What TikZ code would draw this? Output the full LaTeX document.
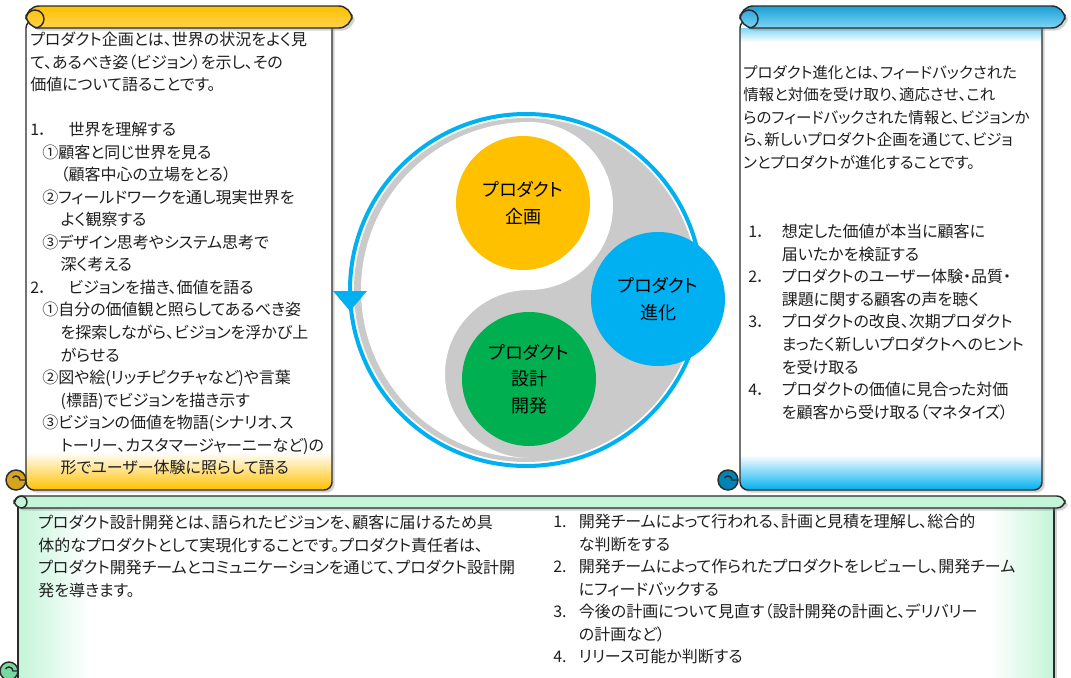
\documentclass[tikz,border=0pt]{standalone}
\usepackage{fontspec}
\setmainfont{Noto Sans CJK JP}[RawFeature=+palt]
\usetikzlibrary{shadows}

\definecolor{gold}{HTML}{FFC000}
\definecolor{goldlt}{HTML}{FFD24D}
\definecolor{golddk}{HTML}{D6A520}
\definecolor{skyblue}{HTML}{00B0F0}
\definecolor{skylt}{HTML}{7FD6F6}
\definecolor{skydk}{HTML}{1A9FD6}
\definecolor{mint}{HTML}{C4F5D8}
\definecolor{leaf}{HTML}{00B050}
\definecolor{ringgray}{HTML}{CACACA}
\definecolor{ink}{HTML}{1F1F1F}
\definecolor{edge}{HTML}{2B2B2B}

\tikzset{
  edgeline/.style={draw=edge, line width=1.1pt},
  scrollshadow/.style={drop shadow={opacity=0.35, shadow xshift=2pt, shadow yshift=-2pt}},
  para/.style={anchor=north west, inner sep=0pt, align=left, text=ink,
    font=\fontsize{12}{16.9}\selectfont},
  hub/.style={circle, minimum size=100.5pt, inner sep=0pt, align=center, text=black,
    font=\fontsize{13.5}{20}\selectfont},
  ring/.style={draw=skyblue, line width=3pt},
}

\begin{document}
\begin{tikzpicture}[x=0.75pt, y=-0.75pt]
\useasboundingbox[fill=white] (0,0) rectangle (1071,678);

% bottom scroll: design and development
\fill[white, scrollshadow] (18,502) rectangle (1054,700);
\shade[left color=mint, right color=white] (18,508) rectangle (90,700);
\shade[left color=white, right color=mint] (990,508) rectangle (1054,700);
\draw[edgeline] (18,502) rectangle (1054,700);
\draw[edgeline, fill=mint, rounded corners=6, scrollshadow] (14,496) rectangle (1065,508);
\draw[edgeline] (21,508) arc[start angle=90, end angle=-180, radius=6];
\draw[edgeline, fill=mint!60!leaf] (9,671) circle[radius=9];
\draw[edgeline] (18,671) -- (13,671) arc[start angle=0, end angle=-150, radius=4];

% left scroll: planning
\fill[white, scrollshadow, rounded corners=6] (26,20) rectangle (332,490);
\begin{scope}
  \clip[rounded corners=6] (26,20) rectangle (332,490);
  \shade[top color=white, bottom color=gold] (26,452) rectangle (332,490);
\end{scope}
\draw[edgeline, rounded corners=6] (26,20) rectangle (332,490);
\draw[edgeline, top color=gold, bottom color=goldlt, rounded corners=10, scrollshadow] (26,6) rectangle (352,28);
\draw[edgeline] (35,28) arc[start angle=90, end angle=-180, radius=9];
\draw[edgeline, fill=golddk] (16,480) circle[radius=10];
\draw[edgeline] (26,480) -- (20,480) arc[start angle=0, end angle=-150, radius=4];

% right scroll: evolution
\fill[white, scrollshadow, rounded corners=6] (740,20) rectangle (1042,490);
\begin{scope}
  \clip[rounded corners=6] (740,20) rectangle (1042,490);
  \shade[top color=skylt, bottom color=white] (740,28) rectangle (1042,42);
  \shade[top color=white, bottom color=skyblue] (740,455) rectangle (1042,490);
\end{scope}
\draw[edgeline, rounded corners=6] (740,20) rectangle (1042,490);
\draw[edgeline, top color=skydk, bottom color=skylt, rounded corners=10, scrollshadow] (740,6) rectangle (1065,28);
\draw[edgeline] (749,28) arc[start angle=90, end angle=-180, radius=9];
\draw[edgeline, fill=skyblue!75!black] (728,480) circle[radius=10];
\draw[edgeline] (738,480) -- (732,480) arc[start angle=0, end angle=-150, radius=4];

% cycle in the middle
\coordinate (cyc) at (526,290);
\fill[ringgray] (cyc) circle[radius=172];
\fill[white] (529,122) arc[start angle=-90, end angle=-270, radius=168]
  arc[start angle=90, end angle=270, radius=84]
  arc[start angle=90, end angle=-90, radius=84];
\draw[ring] (cyc) circle[radius=176];
\fill[skyblue] (333,291) -- (367,291) -- (350,311) -- cycle;

\node[hub, fill=gold] (plan) at (523,203) {プロダクト\\企画};
\node[hub, fill=skyblue] (evolve) at (658,299) {プロダクト\\進化};
\node[hub, fill=leaf] (build) at (529,379) {プロダクト\\設計\\開発};

% texts
\node[para] (plantext) at (30,32) {プロダクト企画とは、世界の状況をよく見\\て、あるべき姿（ビジョン）を示し、その\\価値について語ることです。};
\node[para] (planlist) at (30,122) {\makebox[2.4em][l]{1．}世界を理解する\\
  \hspace*{0.75em}①顧客と同じ世界を見る\\
  \hspace*{1.9em}（顧客中心の立場をとる）\\
  \hspace*{0.75em}②フィールドワークを通し現実世界を\\
  \hspace*{1.9em}よく観察する\\
  \hspace*{0.75em}③デザイン思考やシステム思考で\\
  \hspace*{1.9em}深く考える\\
  \makebox[2.4em][l]{2．}ビジョンを描き、価値を語る\\
  \hspace*{0.75em}①自分の価値観と照らしてあるべき姿\\
  \hspace*{1.9em}を探索しながら、ビジョンを浮かび上\\
  \hspace*{1.9em}がらせる\\
  \hspace*{0.75em}②図や絵(リッチピクチャなど)や言葉\\
  \hspace*{1.9em}(標語)でビジョンを描き示す\\
  \hspace*{0.75em}③ビジョンの価値を物語(シナリオ、ス\\
  \hspace*{1.9em}トーリー、カスタマージャーニーなど)の\\
  \hspace*{1.9em}形でユーザー体験に照らして語る};

\node[para, font=\fontsize{11.6}{16.9}\selectfont] (evolvetext) at (743,65) {プロダクト進化とは、フィードバックされた\\情報と対価を受け取り、適応させ、これ\\らのフィードバックされた情報と、ビジョンか\\ら、新しいプロダクト企画を通じて、ビジョ\\ンとプロダクトが進化することです。};
\node[para] (evolvelist) at (748,224) {\makebox[2.1em][l]{1．}想定した価値が本当に顧客に\\
  \hspace*{2.1em}届いたかを検証する\\
  \makebox[2.1em][l]{2．}プロダクトのユーザー体験・品質・\\
  \hspace*{2.1em}課題に関する顧客の声を聴く\\
  \makebox[2.1em][l]{3．}プロダクトの改良、次期プロダクト\\
  \hspace*{2.1em}まったく新しいプロダクトへのヒント\\
  \hspace*{2.1em}を受け取る\\
  \makebox[2.1em][l]{4．}プロダクトの価値に見合った対価\\
  \hspace*{2.1em}を顧客から受け取る（マネタイズ）};

\node[para] (buildtext) at (38,515) {プロダクト設計開発とは、語られたビジョンを、顧客に届けるため具\\体的なプロダクトとして実現化することです。プロダクト責任者は、\\プロダクト開発チームとコミュニケーションを通じて、プロダクト設計開\\発を導きます。};
\node[para] (buildlist) at (553,514) {\makebox[1.6em][l]{1.}開発チームによって行われる、計画と見積を理解し、総合的\\
  \hspace*{1.6em}な判断をする\\
  \makebox[1.6em][l]{2.}開発チームによって作られたプロダクトをレビューし、開発チーム\\
  \hspace*{1.6em}にフィードバックする\\
  \makebox[1.6em][l]{3.}今後の計画について見直す（設計開発の計画と、デリバリー\\
  \hspace*{1.6em}の計画など）\\
  \makebox[1.6em][l]{4.}リリース可能か判断する};
\end{tikzpicture}
\end{document}
